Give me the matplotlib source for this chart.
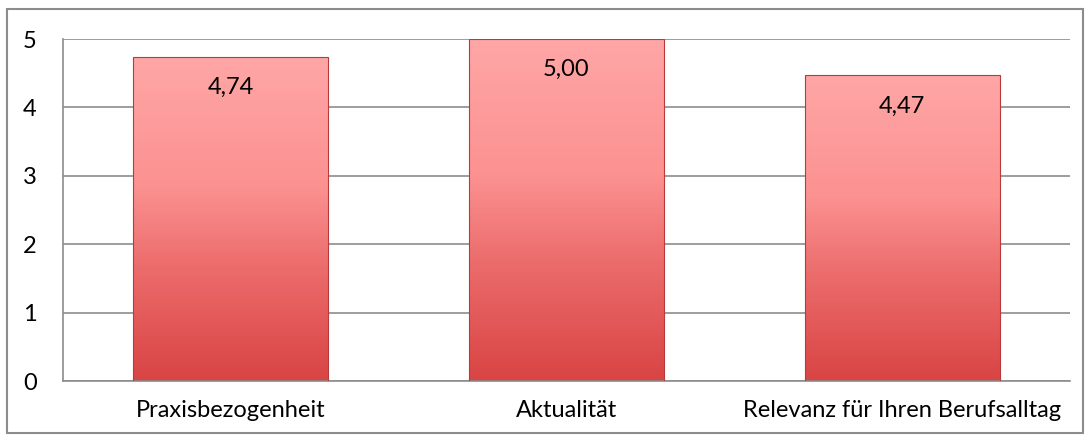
import numpy as np
import matplotlib.pyplot as plt
from matplotlib.patches import Rectangle
from matplotlib.colors import LinearSegmentedColormap

categories = ['Praxisbezogenheit', 'Aktualität', 'Relevanz für Ihren Berufsalltag']
values = [4.74, 5.00, 4.47]
value_labels = ['4,74', '5,00', '4,47']

plt.rcParams['font.family'] = ['Lato', 'DejaVu Sans']

fig = plt.figure(figsize=(10.9, 4.41), dpi=100)
ax = fig.add_axes([63/1090, 60/441, 1007/1090, 342/441])

# outer frame of the chart
fig.patches.append(Rectangle((7/1090, 8/441), 1076/1090, 424/441, transform=fig.transFigure,
                             fill=False, edgecolor='#8c8c8c', linewidth=1.5))

# verloop van rood (onder) naar roze (boven)
grad = LinearSegmentedColormap.from_list(
    'rot', [(0, '#d94444'), (0.35, '#ec6c6c'), (0.6, '#fc9191'), (1, '#ffa6a6')])
width = 0.58
x = np.arange(len(categories))
for xi, v, lab in zip(x, values, value_labels):
    bars = ax.bar(xi, v, width=width, color='none', edgecolor='#b83a3a', linewidth=0.8, zorder=3)
    img = ax.imshow(np.linspace(0, 1, 256).reshape(-1, 1), cmap=grad, origin='lower',
                    extent=[xi - width/2, xi + width/2, 0, v], aspect='auto', zorder=2)
    img.set_clip_path(bars[0])
    ax.text(xi, v - 0.45, lab, ha='center', va='center', fontsize=17, zorder=4)

ax.set_xlim(-0.5, 2.5)
ax.set_ylim(0, 5)
ax.set_yticks([0, 1, 2, 3, 4, 5])
ax.set_xticks(x)
ax.set_xticklabels(categories)
ax.tick_params(axis='both', length=0, labelsize=17)
ax.tick_params(axis='y', pad=19)
ax.tick_params(axis='x', pad=14)
ax.yaxis.grid(True, color='#8c8c8c', linewidth=1.2, zorder=0)
ax.set_axisbelow(True)
for s in ['top', 'right']:
    ax.spines[s].set_visible(False)
ax.spines['left'].set_color('#8c8c8c')
ax.spines['bottom'].set_color('#8c8c8c')
ax.spines['left'].set_linewidth(1.2)
ax.spines['bottom'].set_linewidth(1.2)

plt.savefig('out.png', dpi=100)
